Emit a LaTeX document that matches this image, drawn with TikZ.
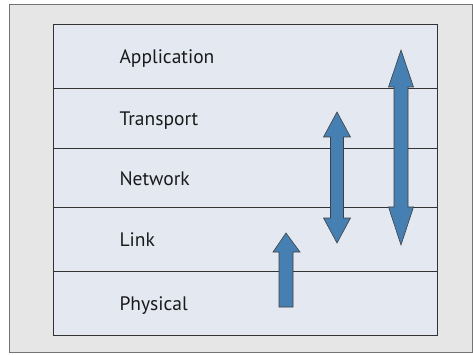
\documentclass[tikz,border=0pt]{standalone}
\usepackage{fontspec}
\setmainfont{PT Sans}
\definecolor{outerbg}{HTML}{E6E6E6}
\definecolor{layerbg}{HTML}{E4E8F0}
\definecolor{arrowblue}{RGB}{70,128,178}
\definecolor{txt}{HTML}{1A1A1A}
\begin{document}
\begin{tikzpicture}[x=1pt,y=-1pt,
  layer/.style={draw=black!80, line width=1.1pt, fill=layerbg, minimum width=384pt, minimum height=#1,
    inner xsep=66pt, inner ysep=0pt, text width=252pt, align=left, text height=14.5pt, text depth=0pt,
    font=\fontsize{19.5}{22}\selectfont, text=txt, anchor=north west},
  blockarrow/.style={fill=arrowblue, draw=black!75, line width=0.6pt, line join=miter}]
\useasboundingbox (0,0) rectangle (473,355);
\draw[fill=outerbg, draw=black!55, line width=0.8pt] (9,4) rectangle (472,352);
\node[layer=64pt] (app) at (53,24) {Application};
\node[layer=60pt] (trans) at (53,88) {Transport};
\node[layer=59pt] (net) at (53,148) {Network};
\node[layer=64pt] (link) at (53,207) {Link};
\node[layer=64pt] (phys) at (53,271) {Physical};
% small up arrow
\draw[blockarrow] (279,307) -- (279,252) -- (273,252) -- (286,233) -- (300,252) -- (293,252) -- (293,307) -- cycle;
% middle double arrow
\draw[blockarrow] (330.5,137) -- (323.5,137) -- (337,112) -- (350.5,137) -- (343.5,137)
  -- (343.5,218) -- (350.5,218) -- (337,243) -- (323.5,218) -- (330.5,218) -- cycle;
% right double arrow
\draw[blockarrow] (394,87) -- (388.5,87) -- (401,50) -- (413.5,87) -- (408,87)
  -- (408,207) -- (413.5,207) -- (401,245) -- (388.5,207) -- (394,207) -- cycle;
\end{tikzpicture}
\end{document}
